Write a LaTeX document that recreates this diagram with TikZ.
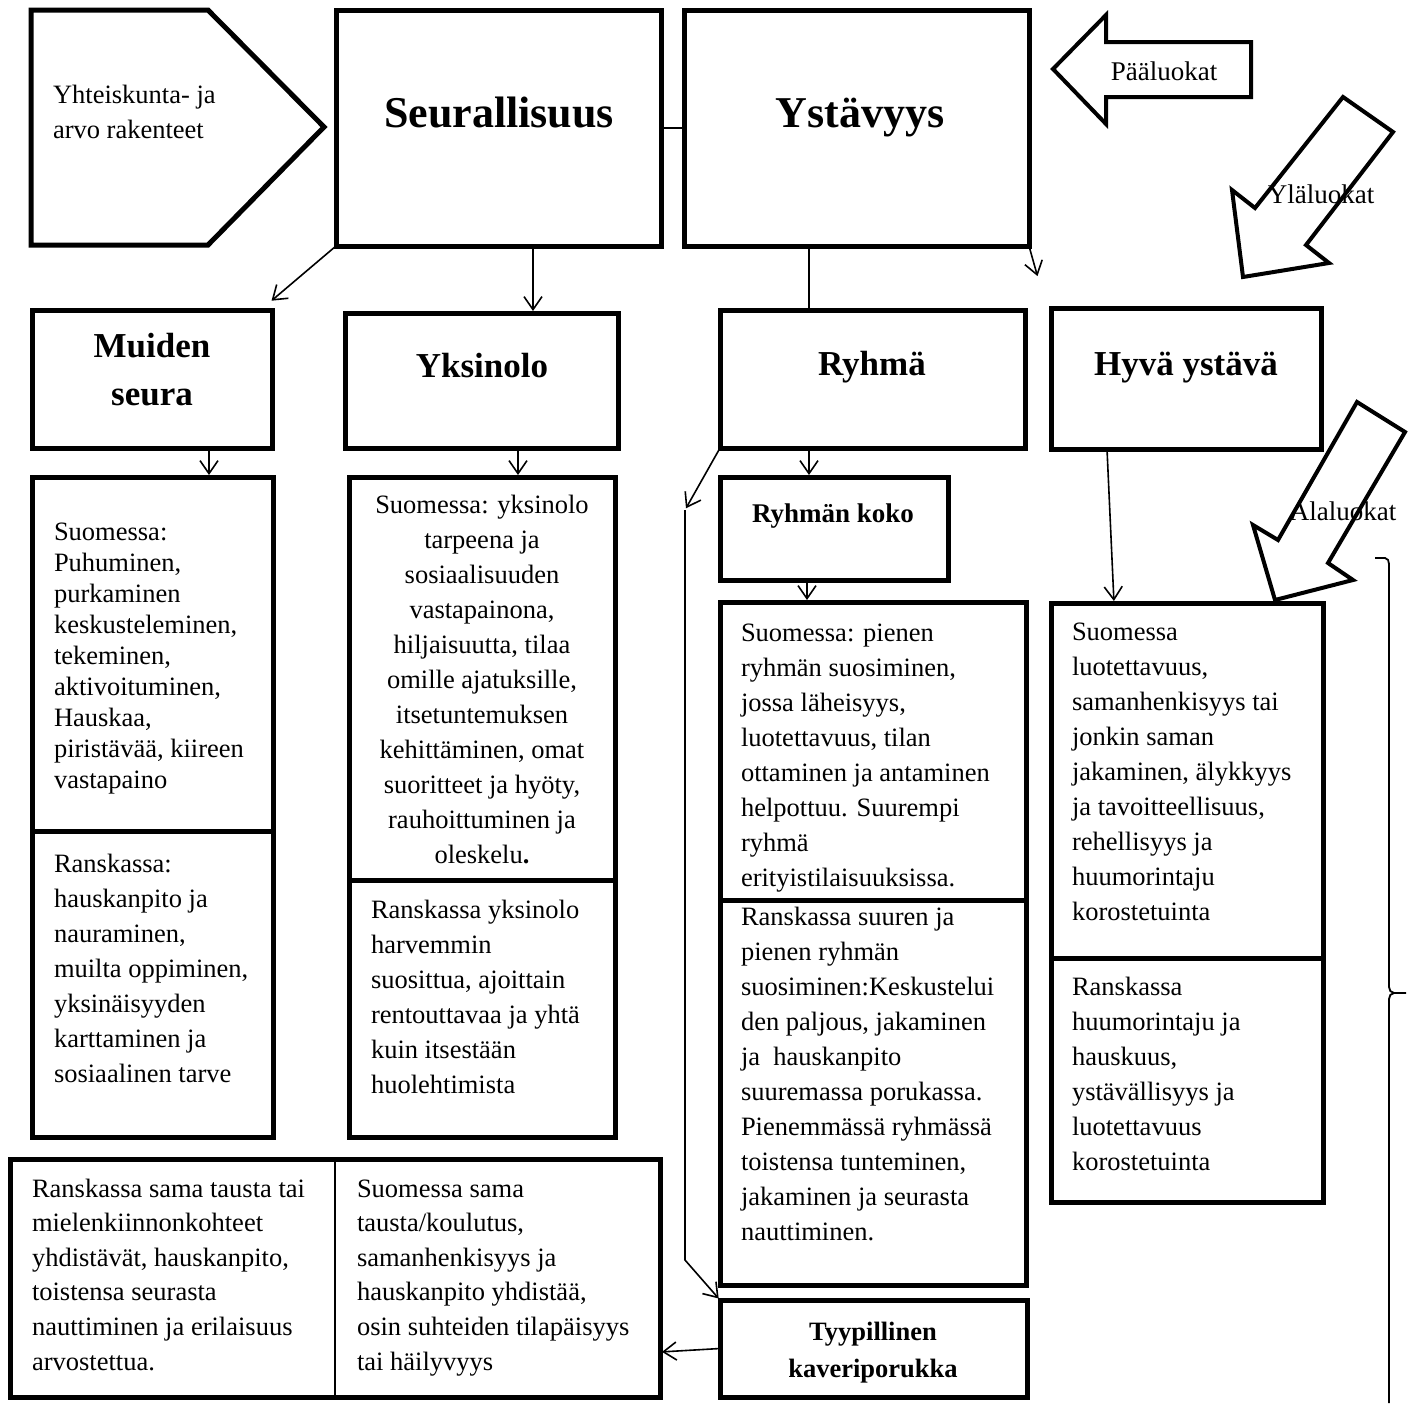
\documentclass[tikz,border=0pt]{standalone}
\usepackage{fontspec}
\setmainfont{Liberation Serif}
\usetikzlibrary{arrows.meta,calc}
\tikzset{
  box/.style={draw, line width=5pt, rectangle, inner sep=0pt, outer sep=0pt, line join=miter},
  conn/.style={line width=1.6pt},
  arr/.style={conn, shorten >=2pt, -{Straight Barb[length=13pt,width=18pt,line width=1.6pt]}},
  bigarrow/.style={draw, line width=4pt, line join=miter, miter limit=6},
  body/.style={inner sep=0pt, outer sep=0pt, font=\fontsize{26.5}{35}\selectfont},
  bodytight/.style={inner sep=0pt, outer sep=0pt, font=\fontsize{26.5}{31}\selectfont},
  bodybot/.style={inner sep=0pt, outer sep=0pt, font=\fontsize{26.5}{34.6}\selectfont},
  headL/.style={inner sep=0pt, outer sep=0pt, font=\bfseries\fontsize{44}{50}\selectfont},
  headM/.style={inner sep=0pt, outer sep=0pt, font=\bfseries\fontsize{35}{48.5}\selectfont},
  headS/.style={inner sep=0pt, outer sep=0pt, font=\bfseries\fontsize{27}{37}\selectfont},
  lab/.style={inner sep=0pt, outer sep=0pt, font=\fontsize{27}{33}\selectfont},
}
\newcommand\mkbox[6][box]{%
  \node[#1, minimum width={(#5-#3)*1pt}, minimum height={(#6-#4)*1pt}] (#2) at ({(#3+#5)/2},{(#4+#6)/2}) {};}
\begin{document}
\begin{tikzpicture}[x=1pt,y=-1pt]
\useasboundingbox (0,0) rectangle (1416,1403);
\fill[white] (0,0) rectangle (1416,1403);

% pentagon
\draw[line width=5pt, line join=miter] (31,10) -- (208,10) -- (324,127) -- (208,245) -- (31,245) -- cycle;
\node[body, anchor=base west] (t-yht) at (53,103) {\parbox[t]{250pt}{\raggedright Yhteiskunta- ja\\arvo rakenteet}};

% main boxes
\mkbox{seur}{336}{10}{661}{246}
\mkbox{ystav}{684}{10}{1029}{246}
\node[headL, anchor=base] (t-seur) at (499,127) {Seurallisuus};
\node[headL, anchor=base] (t-ystav) at (860,127) {Ystävyys};

% second row
\mkbox{muiden}{32}{310}{272}{448}
\mkbox{yksin}{345}{313}{618}{448}
\mkbox{ryhma}{720}{310}{1025}{448}
\mkbox{hyva}{1051}{308}{1321}{449}
\node[headM, anchor=base] (t-mui) at (152,357) {\parbox[t]{220pt}{\centering Muiden\\seura}};
\node[headM, anchor=base] (t-yks) at (482,377) {Yksinolo};
\node[headM, anchor=base] (t-ryh) at (872,375) {Ryhmä};
\node[headM, anchor=base] (t-hyv) at (1186,375) {Hyvä ystävä};

% content boxes
\mkbox{muS}{32}{477}{273}{831}
\mkbox{muR}{32}{831}{273}{1137}
\mkbox{ykS}{349}{477}{615}{880}
\mkbox{ykR}{349}{880}{615}{1137}
\mkbox{koko}{720}{477}{948}{580}
\mkbox{ryS}{720}{602}{1026}{900}
\mkbox{ryR}{720}{900}{1026}{1285}
\mkbox{hyS}{1051}{603}{1323}{958}
\mkbox{hyR}{1051}{958}{1323}{1202}
\mkbox{bot}{10}{1159}{660}{1397}
\mkbox{tyyp}{720}{1300}{1027}{1397}
\draw[line width=2.5pt] (bot.north) -- (bot.south);

\node[headS, anchor=base] (t-koko) at (833,522) {Ryhmän koko};
\node[headS, font=\bfseries\fontsize{26.5}{37}\selectfont, anchor=base] (t-tyyp) at (873,1340) {\parbox[t]{280pt}{\centering Tyypillinen\\kaveriporukka}};

% texts
\node[bodytight, anchor=base west] (x-muS) at (54,540) {\parbox[t]{230pt}{\raggedright Suomessa:\\Puhuminen,\\purkaminen\\keskusteleminen,\\tekeminen,\\aktivoituminen,\\Hauskaa,\\piristävää, kiireen\\vastapaino}};
\node[body, anchor=base west] (x-muR) at (54,872) {\parbox[t]{230pt}{\raggedright Ranskassa:\\hauskanpito ja\\nauraminen,\\muilta oppiminen,\\yksinäisyyden\\karttaminen ja\\sosiaalinen tarve}};
\node[body, anchor=base] (x-ykS) at (482,513) {\parbox[t]{260pt}{\centering Suomessa: yksinolo\\tarpeena ja\\sosiaalisuuden\\vastapainona,\\hiljaisuutta, tilaa\\omille ajatuksille,\\itsetuntemuksen\\kehittäminen, omat\\suoritteet ja hyöty,\\rauhoittuminen ja\\oleskelu\textbf{.}}};
\node[body, anchor=base west] (x-ykR) at (371,918) {\parbox[t]{240pt}{\raggedright Ranskassa yksinolo\\harvemmin\\suosittua, ajoittain\\rentouttavaa ja yhtä\\kuin itsestään\\huolehtimista}};
\node[body, anchor=base west] (x-ryS) at (741,641) {\parbox[t]{280pt}{\raggedright Suomessa: pienen\\ryhmän suosiminen,\\jossa läheisyys,\\luotettavuus, tilan\\ottaminen ja antaminen\\helpottuu. Suurempi\\ryhmä\\erityistilaisuuksissa.}};
\node[body, anchor=base west] (x-ryR) at (741,925) {\parbox[t]{280pt}{\raggedright Ranskassa suuren ja\\pienen ryhmän\\suosiminen:Keskustelui\\den paljous, jakaminen\\ja\ \ hauskanpito\\suuremassa porukassa.\\Pienemmässä ryhmässä\\toistensa tunteminen,\\jakaminen ja seurasta\\nauttiminen.}};
\node[body, anchor=base west] (x-hyS) at (1072,640) {\parbox[t]{250pt}{\raggedright Suomessa\\luotettavuus,\\samanhenkisyys tai\\jonkin saman\\jakaminen, älykkyys\\ja tavoitteellisuus,\\rehellisyys ja\\huumorintaju\\korostetuinta}};
\node[body, anchor=base west] (x-hyR) at (1072,995) {\parbox[t]{250pt}{\raggedright Ranskassa\\huumorintaju ja\\hauskuus,\\ystävällisyys ja\\luotettavuus\\korostetuinta}};
\node[bodybot, anchor=base west] (x-botL) at (32,1197) {\parbox[t]{300pt}{\raggedright Ranskassa sama tausta tai\\mielenkiinnonkohteet\\yhdistävät, hauskanpito,\\toistensa seurasta\\nauttiminen ja erilaisuus\\arvostettua.}};
\node[bodybot, anchor=base west] (x-botR) at (357,1197) {\parbox[t]{300pt}{\raggedright Suomessa sama\\tausta/koulutus,\\samanhenkisyys ja\\hauskanpito yhdistää,\\osin suhteiden tilapäisyys\\tai häilyvyys}};

% connectors
\coordinate (yend) at (1038,278);
\coordinate (c1) at (685,510);
\coordinate (c2) at (685,1260);
\draw[conn] (seur.east) -- (ystav.west);
\draw[arr] (seur.south west) -- ($(muiden.north east)+(-2,-8)$);
\draw[arr] ([xshift=34.5pt]seur.south) -- ([xshift=51.5pt]yksin.north);
\draw[arr] (ystav.south east) -- (yend);
\draw[conn] ([xshift=-47.5pt]ystav.south) -- ([xshift=-63.5pt]ryhma.north);
\draw[arr] ([xshift=57pt]muiden.south) -- ([xshift=56.5pt]muS.north);
\draw[arr] ([xshift=36.5pt]yksin.south) -- ([xshift=36pt]ykS.north);
\draw[arr] ([xshift=-63.5pt]ryhma.south) -- ([xshift=-25pt]koko.north);
\draw[arr] ([xshift=-27pt]koko.south) -- ([xshift=-66pt]ryS.north);
\draw[arr] ([xshift=-79pt]hyva.south) -- ([xshift=-73pt]hyS.north);
\draw[arr] (ryhma.south west) -- (c1);
\draw[arr] (c1) -- (c2) -- (tyyp.north west);
\draw[arr] (tyyp.west) -- ([yshift=-74pt]bot.east);

% bracket
\draw[line width=1.8pt] (1375,558) -- (1385,558) to[out=0,in=90] (1389,564) -- (1389,987) to[out=-90,in=180] (1394,993) -- (1406,993)
  (1394,993) to[out=180,in=90] (1389,999) -- (1389,1403);

% big outline arrows
\draw[bigarrow] (1053,69) -- (1106,15) -- (1106,42) -- (1251,42) -- (1251,97) -- (1106,97) -- (1106,124) -- cycle;
\node[lab, anchor=base] (t-paa) at (1164,80) {Pääluokat};
\draw[bigarrow] (1343,97) -- (1393,132) -- (1306,245) -- (1329,263) -- (1243,277) -- (1232,190) -- (1255,208) -- cycle;
\node[lab, anchor=base] (t-yla) at (1321,203) {Yläluokat};
\draw[bigarrow] (1357,402) -- (1405,432) -- (1328,563) -- (1353,580) -- (1275,600) -- (1253,525) -- (1278,540) -- cycle;
\node[lab, anchor=base] (t-ala) at (1343,520) {Alaluokat};
\end{tikzpicture}
\end{document}
